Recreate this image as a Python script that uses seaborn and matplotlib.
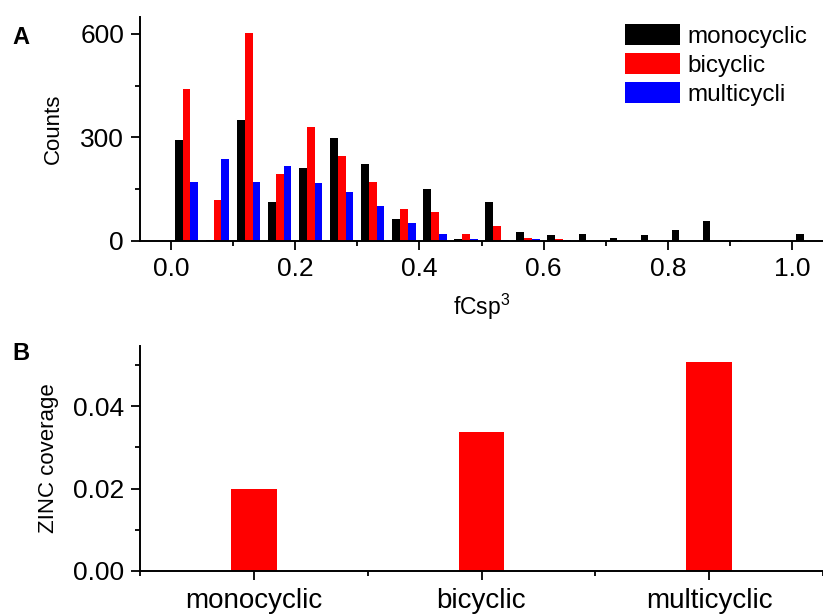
import matplotlib
matplotlib.use("Agg")
import matplotlib.pyplot as plt
import seaborn as sns
import pandas as pd
from matplotlib.ticker import MultipleLocator, FixedLocator, FormatStrFormatter
from matplotlib.patches import Patch

# ---------------- data ----------------
bin_centers = [0.025, 0.075, 0.125, 0.175, 0.225, 0.275, 0.325, 0.375, 0.425, 0.475,
               0.525, 0.575, 0.625, 0.675, 0.725, 0.775, 0.825, 0.875, 0.925, 0.975, 1.025]
monocyclic = [292, 4, 350, 114, 212, 299, 222, 65, 152, 5,
              112, 26, 16, 19, 8, 18, 31, 58, 4, 0, 20]
bicyclic = [440, 118, 602, 193, 330, 247, 170, 93, 83, 19,
            44, 9, 7, 1, 1, 0, 0, 1, 0, 0, 0]
multicyclic = [172, 237, 170, 217, 167, 141, 101, 51, 21, 7,
               4, 5, 2, 0, 0, 0, 1, 0, 0, 0, 0]
series_names = ["monocyclic", "bicyclic", "multicyclic"]
legend_labels = ["monocyclic", "bicyclic", "multicycli"]
series_colors = ["#000000", "#FF0000", "#0000FF"]

coverage_categories = ["monocyclic", "bicyclic", "multicyclic"]
coverage_values = [0.0200, 0.0338, 0.0506]

top_xticks = [0.0, 0.2, 0.4, 0.6, 0.8, 1.0]
top_yticks = [0, 300, 600]
bottom_yticks = [0.00, 0.02, 0.04]

# ---------------- style ----------------
sns.set_style("ticks")
plt.rcParams["font.family"] = ["Liberation Sans", "DejaVu Sans"]
plt.rcParams["text.color"] = "black"
plt.rcParams["axes.labelcolor"] = "black"
plt.rcParams["xtick.color"] = "black"
plt.rcParams["ytick.color"] = "black"
plt.rcParams["mathtext.fontset"] = "custom"
plt.rcParams["mathtext.rm"] = "Liberation Sans"
plt.rcParams["mathtext.it"] = "Liberation Sans:italic"
plt.rcParams["mathtext.bf"] = "Liberation Sans:bold"

fig = plt.figure(figsize=(8.23, 6.15), dpi=100)
W, H = 823.0, 615.0
ax1 = fig.add_axes([140 / W, 1 - 241 / H, (823 - 140) / W, (241 - 16.7) / H])
ax2 = fig.add_axes([140 / W, 1 - 571 / H, (823 - 140) / W, (571 - 346) / H])

# ---------------- top histogram ----------------
rows = []
for name, vals in zip(series_names, [monocyclic, bicyclic, multicyclic]):
    for x, v in zip(bin_centers, vals):
        rows.append({"fcsp": x, "count": v, "class": name})
df = pd.DataFrame(rows)

sns.barplot(data=df, x="fcsp", y="count", hue="class", hue_order=series_names,
            palette=series_colors, native_scale=True, width=0.75, saturation=1,
            errorbar=None, ax=ax1, legend=False, linewidth=0)

ax1.set_xlim(-0.05, 1.05)
ax1.set_ylim(0, 650)
ax1.xaxis.set_major_locator(FixedLocator(top_xticks))
ax1.xaxis.set_major_formatter(FormatStrFormatter("%.1f"))
ax1.xaxis.set_minor_locator(MultipleLocator(0.1))
ax1.yaxis.set_major_locator(FixedLocator(top_yticks))
ax1.yaxis.set_major_formatter(FormatStrFormatter("%d"))
ax1.yaxis.set_minor_locator(MultipleLocator(150))
ax1.set_xlabel(r"fCsp$^\mathrm{3}$", fontsize=16.5, labelpad=8)
ax1.set_ylabel("Counts", fontsize=16, labelpad=12)

handles = [Patch(facecolor=c, edgecolor="none") for c in series_colors]
ax1.legend(handles, legend_labels, loc="upper left",
           bbox_to_anchor=(625 / W, 1 - 24 / H), bbox_transform=fig.transFigure,
           frameon=False, fontsize=17.5, handlelength=2.25, handleheight=0.95,
           handletextpad=0.3, labelspacing=0.22, borderpad=0, borderaxespad=0)

# ---------------- bottom coverage ----------------
cov = pd.DataFrame({"category": coverage_categories, "coverage": coverage_values})
sns.barplot(data=cov, x="category", y="coverage", color="#FF0000", saturation=1,
            width=0.2, errorbar=None, ax=ax2, linewidth=0)
ax2.set_xlim(-0.5, 2.5)
ax2.set_ylim(0, 0.0546)
ax2.yaxis.set_major_locator(FixedLocator(bottom_yticks))
ax2.yaxis.set_major_formatter(FormatStrFormatter("%.2f"))
ax2.yaxis.set_minor_locator(FixedLocator([0.01, 0.03, 0.05]))
ax2.xaxis.set_minor_locator(FixedLocator([-0.5, 0.5, 1.5, 2.5]))
ax2.set_xlabel("")
ax2.set_ylabel("ZINC coverage", fontsize=16, labelpad=10)

for ax in (ax1, ax2):
    sns.despine(ax=ax)
    for s in ("left", "bottom"):
        ax.spines[s].set_linewidth(1.4)
        ax.spines[s].set_color("black")
    ax.tick_params(which="major", direction="out", length=6.5, width=1.3,
                   labelsize=19, colors="black", pad=5)
    ax.tick_params(which="minor", direction="out", length=3.5, width=1.3, colors="black")
    ax.set_facecolor("white")

ax2.tick_params(axis="x", which="major", pad=6, labelsize=20)

fig.text(21 / W, 1 - 37 / H, "A", fontsize=17, fontweight="bold", ha="center", va="center")
fig.text(21 / W, 1 - 353 / H, "B", fontsize=17, fontweight="bold", ha="center", va="center")

fig.savefig("out.png", dpi=100)
